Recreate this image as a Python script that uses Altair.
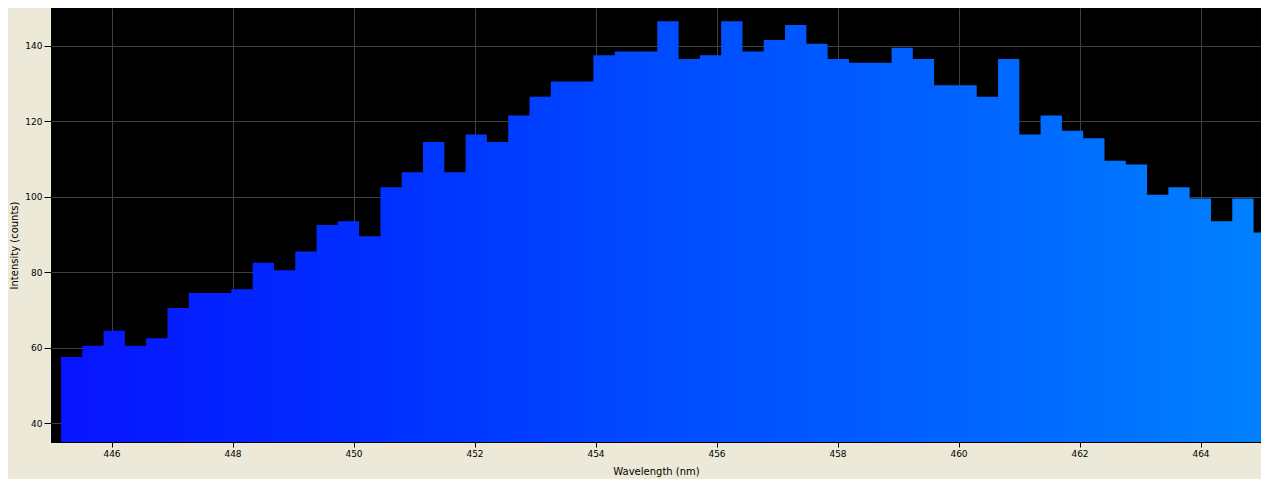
import altair as alt
import pandas as pd

# Bin left edges (nm) of the spectrum histogram, plus the right edge of the last bin
bin_edges = [
    445.165, 445.517, 445.869, 446.221, 446.573, 446.925, 447.277, 447.629, 447.981, 448.333,
    448.685, 449.037, 449.389, 449.741, 450.093, 450.445, 450.797, 451.149, 451.501, 451.853,
    452.205, 452.557, 452.909, 453.261, 453.613, 453.965, 454.317, 454.669, 455.021, 455.373,
    455.725, 456.077, 456.429, 456.781, 457.133, 457.485, 457.837, 458.189, 458.541, 458.893,
    459.245, 459.597, 459.949, 460.301, 460.653, 461.005, 461.357, 461.709, 462.061, 462.413,
    462.765, 463.117, 463.469, 463.821, 464.173, 464.525, 464.877, 465.229,
]
# Intensity (counts) per bin
intensity = [
    57.5, 60.5, 64.5, 60.5, 62.5, 70.5, 74.5, 74.5, 75.5, 82.5,
    80.5, 85.5, 92.5, 93.5, 89.5, 102.5, 106.5, 114.5, 106.5, 116.5,
    114.5, 121.5, 126.5, 130.5, 130.5, 137.5, 138.5, 138.5, 146.5, 136.5,
    137.5, 146.5, 138.5, 141.5, 145.5, 140.5, 136.5, 135.5, 135.5, 139.5,
    136.5, 129.5, 129.5, 126.5, 136.5, 116.5, 121.5, 117.5, 115.5, 109.5,
    108.5, 100.5, 102.5, 99.5, 93.5, 99.5, 90.5,
]
x_ticks = [446, 448, 450, 452, 454, 456, 458, 460, 462, 464]
y_ticks = [40, 60, 80, 100, 120, 140]

df = pd.DataFrame({
    "wl": bin_edges,
    "val": intensity + [intensity[-1]],
})

FONT = "DejaVu Sans"

gradient = alt.LinearGradient(
    gradient="linear",
    x1=0, x2=1, y1=0, y2=0,
    stops=[
        alt.GradientStop(offset=0.0, color="#0814FF"),
        alt.GradientStop(offset=0.25, color="#002EFF"),
        alt.GradientStop(offset=0.5, color="#004CFF"),
        alt.GradientStop(offset=0.75, color="#0064FF"),
        alt.GradientStop(offset=1.0, color="#0082FF"),
    ],
)

chart = (
    alt.Chart(df)
    .mark_area(interpolate="step-after", clip=True, color=gradient)
    .encode(
        x=alt.X(
            "wl:Q",
            scale=alt.Scale(domain=[445, 465], nice=False, zero=False),
            axis=alt.Axis(
                values=x_ticks,
                format="d",
                title="Wavelength (nm)",
                tickSize=5,
                labelPadding=2,
                titleY=29,
                titleBaseline="middle",
            ),
        ),
        y=alt.Y(
            "val:Q",
            scale=alt.Scale(domain=[35, 150], nice=False, zero=False),
            axis=alt.Axis(
                values=y_ticks,
                format="d",
                title="Intensity (counts)",
                tickSize=7,
                labelPadding=2,
                titleX=-37,
                titleY=237,
                titleAngle=-90,
                titleAlign="center",
                titleBaseline="middle",
            ),
        ),
    )
    .properties(
        width=1210,
        height=434,
        autosize=alt.AutoSizeParams(type="none"),
        padding={"left": 43, "top": 0, "right": 0, "bottom": 37},
        background="#ECE9D8",
    )
    .configure_view(fill="black", stroke="black")
    .configure_axis(
        labelFont=FONT,
        titleFont=FONT,
        labelFontSize=9,
        titleFontSize=10,
        titleFontWeight="normal",
        labelColor="black",
        titleColor="black",
        tickColor="black",
        domainColor="black",
        gridColor="#404040",
        gridWidth=1,
        gridOpacity=1,
    )
)

chart.save("out.html", embed_options={"renderer": "svg", "actions": False})
